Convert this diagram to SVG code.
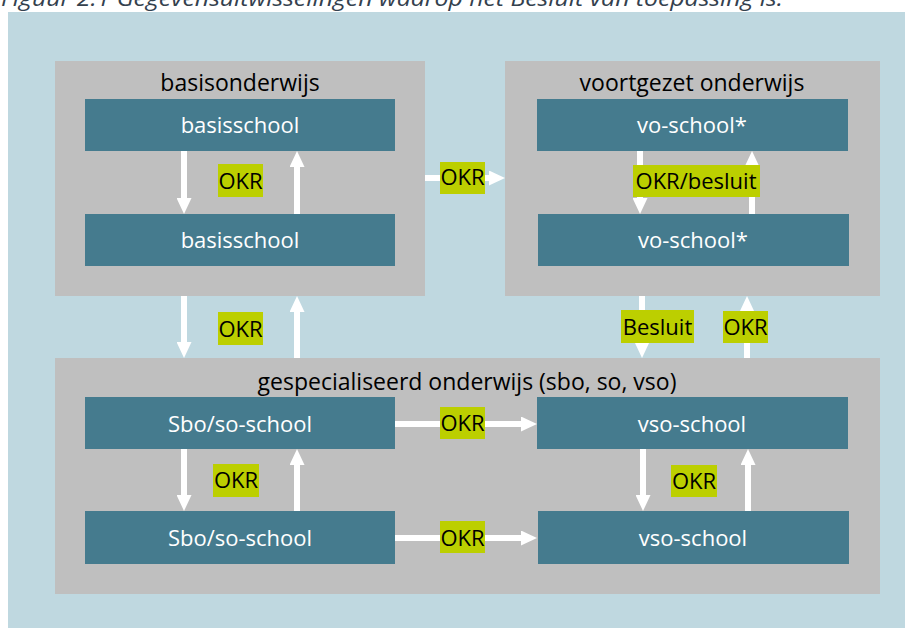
<svg xmlns="http://www.w3.org/2000/svg" width="905" height="628" viewBox="0 0 905 628">
  <defs>
    <style>
      .bg { fill: #bfd8e0; }
      .group { fill: #bfbfbf; }
      .node { fill: #457b8e; }
      .lbl { fill: #bccf00; }
      .gtitle { font-family: "Open Sans", "Noto Sans", sans-serif; font-size: 23px; fill: #000000; text-anchor: middle; }
      .ntext { font-family: "Open Sans", "Noto Sans", sans-serif; font-size: 22px; fill: #ffffff; text-anchor: middle; }
      .ltext { font-family: "Open Sans", "Noto Sans", sans-serif; font-size: 22px; fill: #000000; text-anchor: middle; }
      .caption { font-family: "Open Sans", "Noto Sans", sans-serif; font-size: 22px; font-style: italic; fill: #34414e; }
      .arrow { stroke: #ffffff; stroke-width: 6; fill: none; marker-end: url(#head); }
    </style>
    <marker id="head" viewBox="0 0 16 15" markerWidth="16" markerHeight="15" refX="0" refY="7.5" orient="auto" markerUnits="userSpaceOnUse">
      <path d="M0,0 L16,7.5 L0,15 Z" fill="#ffffff"/>
    </marker>
  </defs>

  <text class="caption" x="1" y="6" textLength="782" lengthAdjust="spacingAndGlyphs">Figuur 2.1 Gegevensuitwisselingen waarop het Besluit van toepassing is.</text>
  <rect class="bg" x="8" y="12" width="897" height="616"/>

  <g id="basisonderwijs">
    <rect class="group" x="55" y="61" width="370" height="235"/>
    <text class="gtitle" x="240" y="91">basisonderwijs</text>
  </g>
  <g id="voortgezet-onderwijs">
    <rect class="group" x="505" y="61" width="375" height="235"/>
    <text class="gtitle" x="692" y="91">voortgezet onderwijs</text>
  </g>
  <g id="gespecialiseerd-onderwijs">
    <rect class="group" x="55" y="358" width="825" height="236"/>
    <text class="gtitle" x="467" y="390">gespecialiseerd onderwijs (sbo, so, vso)</text>
  </g>

  <g id="basisschool-1">
    <rect class="node" x="85" y="99" width="310" height="52"/>
    <text class="ntext" x="240" y="133">basisschool</text>
  </g>
  <g id="basisschool-2">
    <rect class="node" x="85" y="214" width="310" height="52"/>
    <text class="ntext" x="240" y="248">basisschool</text>
  </g>
  <g id="vo-school-1">
    <rect class="node" x="537" y="99" width="311" height="52"/>
    <text class="ntext" x="692" y="133">vo-school*</text>
  </g>
  <g id="vo-school-2">
    <rect class="node" x="538" y="214" width="311" height="52"/>
    <text class="ntext" x="693" y="248">vo-school*</text>
  </g>
  <g id="sbo-so-school-1">
    <rect class="node" x="85" y="397" width="310" height="52"/>
    <text class="ntext" x="240" y="432">Sbo/so-school</text>
  </g>
  <g id="vso-school-1">
    <rect class="node" x="537" y="397" width="311" height="52"/>
    <text class="ntext" x="692" y="432">vso-school</text>
  </g>
  <g id="sbo-so-school-2">
    <rect class="node" x="85" y="511" width="310" height="53"/>
    <text class="ntext" x="240" y="546">Sbo/so-school</text>
  </g>
  <g id="vso-school-2">
    <rect class="node" x="538" y="511" width="311" height="53"/>
    <text class="ntext" x="693" y="546">vso-school</text>
  </g>

  <g id="connectors">
    <line class="arrow" x1="184" y1="151" x2="184" y2="198"/>
    <line class="arrow" x1="297" y1="214" x2="297" y2="167"/>
    <line class="arrow" x1="425" y1="178" x2="489" y2="178"/>
    <line class="arrow" x1="640" y1="151" x2="640" y2="198"/>
    <line class="arrow" x1="752" y1="214" x2="752" y2="167"/>
    <line class="arrow" x1="184" y1="296" x2="184" y2="342"/>
    <line class="arrow" x1="297" y1="358" x2="297" y2="312"/>
    <line class="arrow" x1="642" y1="296" x2="642" y2="342"/>
    <line class="arrow" x1="747" y1="358" x2="747" y2="312"/>
    <line class="arrow" x1="395" y1="424" x2="521" y2="424"/>
    <line class="arrow" x1="184" y1="449" x2="184" y2="495"/>
    <line class="arrow" x1="297" y1="511" x2="297" y2="465"/>
    <line class="arrow" x1="643" y1="449" x2="643" y2="495"/>
    <line class="arrow" x1="748" y1="511" x2="748" y2="465"/>
    <line class="arrow" x1="395" y1="538" x2="521" y2="538"/>

    <rect class="lbl" x="218" y="164" width="45" height="33"/>
    <text class="ltext" x="240.5" y="189">OKR</text>
    <rect class="lbl" x="440" y="162" width="45" height="32"/>
    <text class="ltext" x="462.5" y="185">OKR</text>
    <rect class="lbl" x="633" y="165" width="127" height="32"/>
    <text class="ltext" x="696" y="189">OKR/besluit</text>
    <rect class="lbl" x="218" y="312" width="45" height="33"/>
    <text class="ltext" x="240.5" y="337">OKR</text>
    <rect class="lbl" x="621" y="310" width="73" height="33"/>
    <text class="ltext" x="657.5" y="335">Besluit</text>
    <rect class="lbl" x="723" y="311" width="45" height="32"/>
    <text class="ltext" x="745.5" y="335">OKR</text>
    <rect class="lbl" x="440" y="407" width="45" height="32"/>
    <text class="ltext" x="462.5" y="431">OKR</text>
    <rect class="lbl" x="213" y="464" width="46" height="33"/>
    <text class="ltext" x="236" y="488">OKR</text>
    <rect class="lbl" x="671" y="465" width="46" height="32"/>
    <text class="ltext" x="694" y="489">OKR</text>
    <rect class="lbl" x="440" y="521" width="45" height="32"/>
    <text class="ltext" x="462.5" y="546">OKR</text>
  </g>
</svg>
